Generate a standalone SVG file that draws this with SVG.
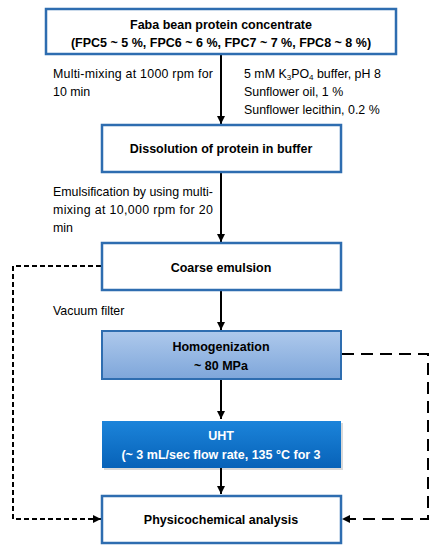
<svg xmlns="http://www.w3.org/2000/svg" width="437" height="550" viewBox="0 0 437 550">
<style>
.box{fill:#fff;stroke:#2e6db0;stroke-width:2.5}
.t{font-family:"Liberation Sans",Arial,sans-serif;font-size:12.4px;fill:#000}
.b{font-weight:bold;text-anchor:middle;font-size:12.5px}
.w{fill:#fff}
.arr{stroke:#000;stroke-width:2;fill:none}
.d1{stroke:#000;stroke-width:2;fill:none;stroke-dasharray:5 3}
.d2{stroke:#000;stroke-width:2;fill:none;stroke-dasharray:12 7}
</style>
<defs>
<marker id="ah" viewBox="0 0 10 10" refX="10" refY="5" markerWidth="4" markerHeight="4" orient="auto"><path d="M0,0 L10,5 L0,10 z" fill="#000"/></marker>
<linearGradient id="g1" x1="0" y1="0" x2="0" y2="1"><stop offset="0" stop-color="#aec9ec"/><stop offset="1" stop-color="#7ea6da"/></linearGradient>
<linearGradient id="g2" x1="0" y1="0" x2="0" y2="1"><stop offset="0" stop-color="#1c84da"/><stop offset="1" stop-color="#0762b8"/></linearGradient>
</defs>
<g id="connectors">
<line class="arr" x1="221" y1="54" x2="221" y2="124" marker-end="url(#ah)"/>
<line class="arr" x1="221" y1="172" x2="221" y2="242" marker-end="url(#ah)"/>
<line class="arr" x1="221" y1="290" x2="221" y2="330" marker-end="url(#ah)"/>
<line class="arr" x1="221" y1="379" x2="221" y2="419" marker-end="url(#ah)"/>
<line class="arr" x1="221" y1="468" x2="221" y2="494" marker-end="url(#ah)"/>
<polyline class="d1" points="101,266 13,266 13,519 101,519" marker-end="url(#ah)"/>
<polyline class="d2" points="342,354 428,354 428,519 342,519" marker-end="url(#ah)"/>
</g>
<g id="n1"><rect class="box" x="46" y="9" width="350" height="45"/>
<text class="t b" x="221" y="29">Faba bean protein concentrate</text>
<text class="t b" x="221" y="47">(FPC5 ~ 5 %, FPC6 ~ 6 %, FPC7 ~ 7 %, FPC8 ~ 8 %)</text></g>
<text class="t" x="53" y="78" textLength="160" lengthAdjust="spacing">Multi-mixing at 1000 rpm for</text>
<text class="t" x="53" y="96">10 min</text>
<text class="t" x="244" y="78">5 mM K<tspan font-size="8" dy="2">3</tspan><tspan dy="-2">PO</tspan><tspan font-size="8" dy="2">4</tspan><tspan dy="-2"> buffer, pH 8</tspan></text>
<text class="t" x="244" y="96">Sunflower oil, 1 %</text>
<text class="t" x="244" y="114">Sunflower lecithin, 0.2 %</text>
<g id="n2"><rect class="box" x="102" y="125" width="239" height="47"/>
<text class="t b" x="221" y="153">Dissolution of protein in buffer</text></g>
<text class="t" x="53" y="196">Emulsification by using multi-</text>
<text class="t" x="53" y="214" textLength="160" lengthAdjust="spacing">mixing at 10,000 rpm for 20</text>
<text class="t" x="53" y="232">min</text>
<g id="n3"><rect class="box" x="102" y="243" width="239" height="47"/>
<text class="t b" x="221" y="272">Coarse emulsion</text></g>
<text class="t" x="53" y="315">Vacuum filter</text>
<g id="n4"><rect x="102" y="331" width="239" height="48" fill="url(#g1)" stroke="#2e6db0" stroke-width="2"/>
<text class="t b" x="221" y="351">Homogenization</text>
<text class="t b" x="221" y="370">~ 80 MPa</text></g>
<g id="n5"><rect x="104" y="423" width="239" height="47" fill="#000" opacity="0.15"/>
<rect x="102" y="421" width="239" height="47" fill="url(#g2)"/>
<text class="t b w" x="221" y="440">UHT</text>
<text class="t b w" x="221" y="459">(~ 3 mL/sec flow rate, 135 °C for 3</text></g>
<g id="n6"><rect class="box" x="102" y="496" width="239" height="47"/>
<text class="t b" x="221" y="524">Physicochemical analysis</text></g>
</svg>
